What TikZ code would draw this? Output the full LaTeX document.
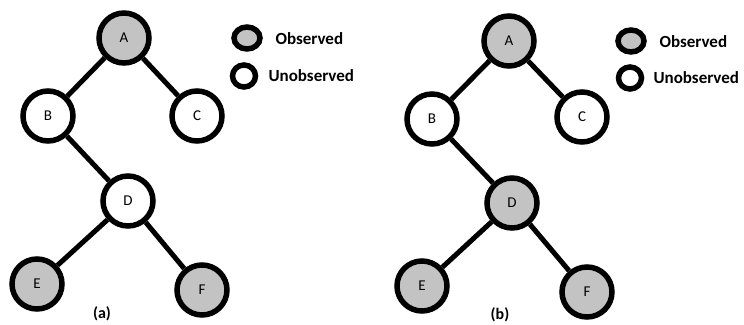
\documentclass[tikz,border=0pt]{standalone}
\usepackage{fontspec}
\setmainfont{Carlito}
\usetikzlibrary{shapes.geometric}
\definecolor{obsgray}{RGB}{195,195,195}
\begin{document}
\begin{tikzpicture}[x=1pt,y=-1pt,
 vnode/.style={circle,draw=black,line width=5.5pt,minimum size=50pt,inner sep=0pt,font=\fontsize{15}{15}\selectfont},
 obs/.style={vnode,fill=obsgray},
 unobs/.style={vnode,fill=white},
 edge/.style={line width=5pt},
 legobs/.style={ellipse,draw=black,line width=5.5pt,fill=obsgray,minimum width=26pt,minimum height=22pt,inner sep=0pt},
 legun/.style={ellipse,draw=black,line width=5.5pt,fill=white,minimum width=23pt,minimum height=22pt,inner sep=0pt},
 legtext/.style={anchor=west,font=\bfseries\fontsize{17}{17}\selectfont},
 caption/.style={font=\bfseries\fontsize{16}{16}\selectfont}]
\useasboundingbox (0,0) rectangle (744,324);
% panel (a)
\node[obs]   (aA) at (124,38)  {A};
\node[unobs] (aB) at (48,116)  {B};
\node[unobs] (aC) at (197,116) {C};
\node[unobs] (aD) at (128,201) {D};
\node[obs]   (aE) at (37,284)  {E};
\node[obs]   (aF) at (202,290) {F};
\draw[edge] (aA) -- (aB);
\draw[edge] (aA) -- (aC);
\draw[edge] (aB) -- (aD);
\draw[edge] (aD) -- (aE);
\draw[edge] (aD) -- (aF);
\node[caption] (capa) at (102,314) {(a)};
\node[legobs] (la1) at (247,38) {};
\node[legtext] (lt1) at (272,39) {Observed};
\node[legun] (la2) at (244,76) {};
\node[legtext] (lt2) at (265,76) {Unobserved};
% panel (b)
\node[obs]   (bA) at (509,41)  {A};
\node[unobs] (bB) at (432,119) {B};
\node[unobs] (bC) at (582,117) {C};
\node[obs]   (bD) at (512,203) {D};
\node[obs]   (bE) at (422,286) {E};
\node[obs]   (bF) at (587,292) {F};
\draw[edge] (bA) -- (bB);
\draw[edge] (bA) -- (bC);
\draw[edge] (bB) -- (bD);
\draw[edge] (bD) -- (bE);
\draw[edge] (bD) -- (bF);
\node[caption] (capb) at (500,315) {(b)};
\node[legobs] (lb1) at (631,41) {};
\node[legtext] (lt3) at (656,42) {Observed};
\node[legun] (lb2) at (630,78) {};
\node[legtext] (lt4) at (650,78) {Unobserved};
\end{tikzpicture}
\end{document}
